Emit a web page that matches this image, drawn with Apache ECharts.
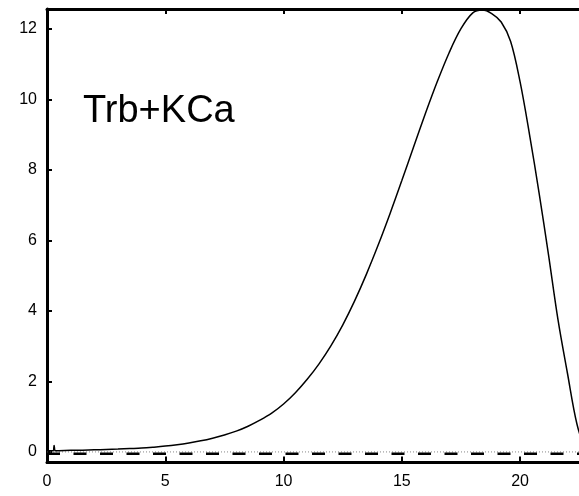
<!DOCTYPE html>
<html>
<head>
<meta charset="utf-8">
<script src="https://cdn.jsdelivr.net/npm/echarts@6/dist/echarts.min.js"></script>
<style>
html,body{margin:0;padding:0;background:#fff;}
#chart{width:579px;height:496px;}
</style>
</head>
<body>
<div id="chart"></div>
<script>
// Current trace (x in time units, y in signal units)
var curveX = [0, 0.25, 0.3, 0.35, 0.5, 1, 1.5, 2, 2.5, 3, 3.5, 4, 4.5, 5, 5.5, 6, 6.5, 7, 7.5, 8, 8.5, 9, 9.5, 10, 10.5, 11, 11.5, 12, 12.5, 13, 13.5, 14, 14.5, 15, 15.5, 16, 16.5, 17, 17.5, 18, 18.4, 18.8, 19.2, 19.6, 20, 20.4, 20.8, 21.2, 21.6, 22, 22.4, 22.8];
var curveY = [0.03, 0.03, 0.18, 0.03, 0.035, 0.045, 0.05, 0.06, 0.07, 0.08, 0.095, 0.11, 0.135, 0.165, 0.205, 0.255, 0.315, 0.39, 0.48, 0.59, 0.73, 0.9, 1.1, 1.36, 1.68, 2.06, 2.5, 3.01, 3.6, 4.28, 5.04, 5.87, 6.76, 7.7, 8.66, 9.61, 10.51, 11.33, 12.01, 12.46, 12.54, 12.44, 12.2, 11.65, 10.5, 9.0, 7.36, 5.6, 3.76, 2.24, 0.8, -0.05];
// Reference lines
var dashX = [0, 23];
var dashY = [-0.05, -0.05];
var dotX = [0, 23];
var dotY = [0, 0];
// Tick labels
var xTicks = [0, 5, 10, 15, 20];
var yTicks = [0, 2, 4, 6, 8, 10, 12];
var panelLabel = 'Trb+KCa';

function pairs(xs, ys) { return xs.map(function (x, i) { return [x, ys[i]]; }); }

var FONT = 'Liberation Sans, Arial, Helvetica, sans-serif';
var chart = echarts.init(document.getElementById('chart'), null, { renderer: 'canvas' });
chart.setOption({
  animation: false,
  backgroundColor: '#fff',
  grid: { left: 47, top: 9, right: 0, height: 453.5, containLabel: false },
  xAxis: [{
    type: 'value', min: 0, max: 22.49, interval: 5, position: 'bottom',
    axisLine: { show: true, onZero: false, lineStyle: { color: '#000', width: 3 } },
    axisTick: { show: true, inside: true, length: 6, lineStyle: { color: '#000', width: 2 },
      customValues: xTicks },
    axisLabel: { show: true, margin: 11, color: '#000', fontSize: 16, fontFamily: FONT,
      customValues: xTicks },
    splitLine: { show: false }
  }, {
    type: 'value', min: 0, max: 22.49, interval: 5, position: 'top',
    axisLine: { show: true, onZero: false, lineStyle: { color: '#000', width: 3 } },
    axisTick: { show: true, inside: true, length: 5, lineStyle: { color: '#000', width: 2 },
      customValues: xTicks },
    axisLabel: { show: false },
    splitLine: { show: false }
  }],
  yAxis: [{
    type: 'value', min: -0.3, max: 12.57, position: 'left',
    axisLine: { show: true, onZero: false, lineStyle: { color: '#000', width: 3 } },
    axisTick: { show: true, inside: true, length: 5, lineStyle: { color: '#000', width: 2 },
      customValues: yTicks },
    axisLabel: { show: true, margin: 10, color: '#000', fontSize: 16, fontFamily: FONT,
      customValues: yTicks },
    splitLine: { show: false }
  }],
  series: [{
    type: 'line', data: pairs(dotX, dotY), showSymbol: false, symbol: 'none',
    lineStyle: { color: '#888', width: 1, type: [1, 2] }, z: 1
  }, {
    type: 'line', data: pairs(dashX, dashY), showSymbol: false, symbol: 'none',
    lineStyle: { color: '#000', width: 2.5, type: [13, 13.5] }, z: 2
  }, {
    type: 'line', data: pairs(curveX, curveY), showSymbol: false, symbol: 'none',
    smooth: 0.35,
    lineStyle: { color: '#000', width: 1.5 }, z: 3
  }],
  graphic: [{
    type: 'text', left: 83, top: 93,
    style: { text: panelLabel, font: '38px ' + FONT, fill: '#000' }
  }]
});
</script>
</body>
</html>
